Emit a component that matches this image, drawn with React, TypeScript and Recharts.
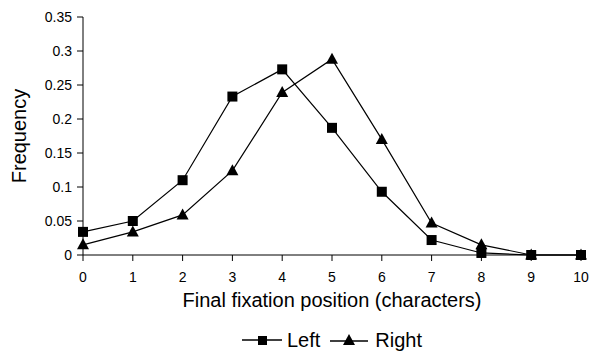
import { LineChart, Line, XAxis, YAxis, Legend, Label } from 'recharts';

const positions = [0, 1, 2, 3, 4, 5, 6, 7, 8, 9, 10];
const leftFreq = [0.034, 0.05, 0.11, 0.233, 0.273, 0.187, 0.093, 0.022, 0.003, 0, 0];
const rightFreq = [0.015, 0.034, 0.059, 0.124, 0.239, 0.288, 0.17, 0.047, 0.015, 0, 0];
const yTicks = [0, 0.05, 0.1, 0.15, 0.2, 0.25, 0.3, 0.35];

const data = positions.map((p, i) => ({ pos: p, left: leftFreq[i], right: rightFreq[i] }));

const FONT = '"Liberation Sans", Arial, sans-serif';

function SquareDot(props: any) {
  const { cx, cy } = props;
  if (cx == null || cy == null) return null;
  return <rect x={cx - 5} y={cy - 5} width={10} height={10} fill="#000" />;
}

function TriangleDot(props: any) {
  const { cx, cy } = props;
  if (cx == null || cy == null) return null;
  return <polygon points={`${cx},${cy - 6.5} ${cx - 6},${cy + 4.5} ${cx + 6},${cy + 4.5}`} fill="#000" />;
}

function LegendContent() {
  return (
    <div
      style={{
        display: 'flex',
        justifyContent: 'center',
        alignItems: 'center',
        height: 26,
        fontFamily: FONT,
        fontSize: 20,
        color: '#000',
      }}
    >
      <svg width={40} height={14}>
        <line x1={0} y1={7} x2={40} y2={7} stroke="#000" strokeWidth={1.3} />
        <rect x={16} y={3} width={9} height={9} fill="#000" />
      </svg>
      <span style={{ marginLeft: 5, marginRight: 10 }}>Left</span>
      <svg width={38} height={14}>
        <line x1={0} y1={8} x2={38} y2={8} stroke="#000" strokeWidth={1.3} />
        <polygon points="19,1 13,12 25,12" fill="#000" />
      </svg>
      <span style={{ marginLeft: 7 }}>Right</span>
    </div>
  );
}

export default function App() {
  const tickStyle = { fontSize: 14, fontFamily: FONT, fill: '#000' };
  const titleStyle = { fontSize: 20, fontFamily: FONT, fill: '#000' };
  return (
    <div style={{ position: 'absolute', left: 0, top: 0, background: '#fff' }}>
      <LineChart width={590} height={353} data={data} margin={{ top: 17, right: 9, left: 0, bottom: 0 }}>
        <XAxis
          dataKey="pos"
          type="number"
          domain={[0, 10]}
          ticks={positions}
          interval={0}
          stroke="#000"
          tick={tickStyle}
          tickSize={6}
          tickMargin={11}
          height={72}
        >
          <Label
            value="Final fixation position (characters)"
            position="insideBottom"
            offset={20}
            style={titleStyle}
          />
        </XAxis>
        <XAxis xAxisId="top" orientation="top" dataKey="pos" type="number" domain={[0, 10]} tick={false} tickLine={false} stroke="#000" height={0} />
        <YAxis
          type="number"
          domain={[0, 0.35]}
          ticks={yTicks}
          interval={0}
          stroke="#000"
          tick={tickStyle}
          tickSize={6}
          tickMargin={5}
          width={83}
        >
          <Label
            value="Frequency"
            angle={-90}
            position="insideLeft"
            offset={19}
            style={{ ...titleStyle, textAnchor: 'middle' }}
          />
        </YAxis>
        <YAxis yAxisId="right" orientation="right" type="number" domain={[0, 0.35]} tick={false} tickLine={false} stroke="#000" width={0} />
        <Legend
          verticalAlign="bottom"
          content={<LegendContent />}
          wrapperStyle={{ left: 83, width: 498 }}
        />
        <Line
          dataKey="left"
          name="Left"
          stroke="#000"
          strokeWidth={1.2}
          dot={<SquareDot />}
          activeDot={false}
          isAnimationActive={false}
        />
        <Line
          dataKey="right"
          name="Right"
          stroke="#000"
          strokeWidth={1.2}
          dot={<TriangleDot />}
          activeDot={false}
          isAnimationActive={false}
        />
      </LineChart>
    </div>
  );
}
